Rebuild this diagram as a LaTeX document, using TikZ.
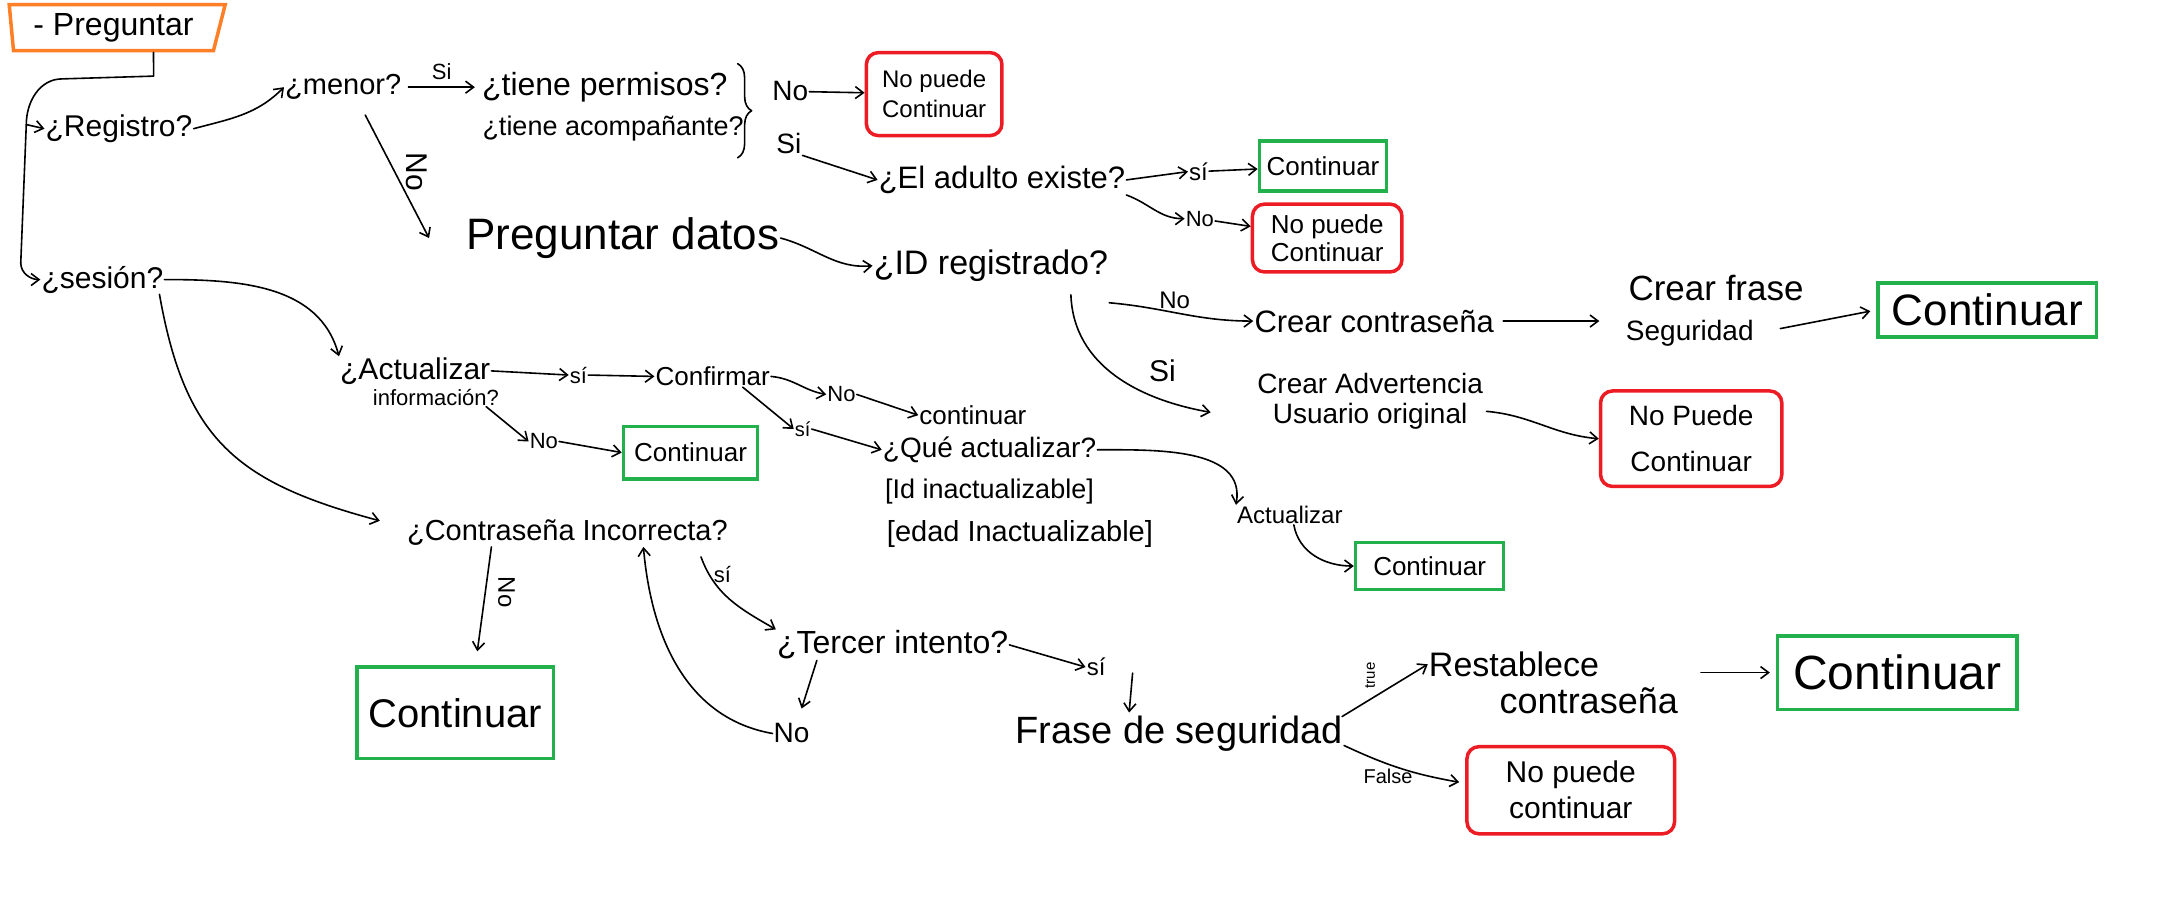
\documentclass[tikz,border=0pt]{standalone}
\usepackage{fontspec}
\setmainfont{Liberation Sans}
\usetikzlibrary{arrows.meta,shapes.geometric,decorations.pathreplacing}
\definecolor{pgreen}{HTML}{22B14C}
\definecolor{pred}{HTML}{ED1C24}
\definecolor{porange}{HTML}{FF7F27}
\tikzset{
  sz/.style={font=\fontsize{#1}{#1}\selectfont, inner sep=1pt},
  lsz/.style 2 args={font=\fontsize{#1}{#2}\selectfont, align=center},
  ln/.style={line width=1.6pt, line cap=round, line join=round},
  arr/.style={ln, -{Straight Barb[length=8pt, width=12pt]}},
  bsz/.style 2 args={minimum width=#1*1.384pt, minimum height=#2*1.384pt, inner sep=0pt},
  gbox/.style={draw=pgreen, line width=3.5pt},
  rbox/.style={draw=pred, line width=3.5pt, rounded corners=12pt},
}
\begin{document}
\begin{tikzpicture}[x=1.384pt, y=-1.384pt]
\useasboundingbox (0,0) rectangle (1568,652);
\fill[white] (0,0) rectangle (1568,652);

% start
\node[draw=porange, line width=3.5pt, trapezium, trapezium left angle=98, trapezium right angle=111,
      trapezium stretches body, minimum width=216pt, minimum height=46pt, sz=32] (preg) at (82,20) {- Preguntar};
\coordinate (c1) at (111,55);
\coordinate (c2) at (45,57);
\coordinate (j1) at (19,90);
\coordinate (j2) at (15,190);
\draw[ln] ([xshift=40pt]preg.south) -- (c1) -- (c2) to[out=180,in=90] (j1) -- (j2);

\node[sz=30] (reg) at (86,93) {¿Registro?};
\draw[arr] (j1) -- (reg.west);
\node[sz=30] (ses) at (74,202) {¿sesión?};
\draw[arr] (j2) to[out=-90,in=180] (ses.west);

% registro branch
\node[sz=29] (menor) at (248,63) {¿menor?};
\draw[arr] (reg.east) to[out=15,in=225] (menor.west);
\node[sz=32] (tp) at (437,63) {¿tiene permisos?};
\node[sz=27] (ta) at (443,93) {¿tiene acompañante?};
\draw[arr, shorten <=6pt, shorten >=6pt] (menor.east) -- node[above=6pt, sz=22] {Si} (tp.west);
\coordinate (bt) at (533,46);
\coordinate (bb) at (533,114);
\draw[ln, decorate, decoration={brace, amplitude=14pt}] (bt) -- (bb);

\node[sz=28] (noA) at (571,66) {No};
\node[sz=28] (siA) at (570,104) {Si};
\node[rbox, bsz={98}{60}, lsz={24}{30}] (r1) at (675,68) {No puede\\Continuar};
\draw[arr] (noA) -- (r1);
\node[sz=31] (adulto) at (724,130) {¿El adulto existe?};
\draw[arr] (siA.south east) -- (adulto.west);
\node[sz=24] (siB) at (866,124) {sí};
\node[gbox, bsz={92}{36}, sz=26] (g1) at (956,120) {Continuar};
\draw[arr] (adulto.east) -- (siB.west);
\draw[arr] (siB) -- (g1);
\node[sz=22] (noB) at (867,158) {No};
\node[rbox, bsz={108}{49}, lsz={26}{28}] (r2) at (959,172) {No puede\\Continuar};
\draw[arr] (adulto.south east) to[out=-20,in=180] (noB.west);
\draw[arr] (noB) -- (r2);

\node[sz=44] (pd) at (450,172) {Preguntar datos};
\draw[arr] ([xshift=22pt,yshift=-14pt]menor.south) -- ([xshift=-36pt]pd.west);
\node[sz=30, rotate=-90] (noM) at (301,124) {No};

\node[sz=34] (idr) at (716,192) {¿ID registrado?};
\draw[arr] (pd.east) to[out=-15,in=185] (idr.west);

\node[sz=31] (cc) at (993,232) {Crear contraseña};
\draw[arr] ([yshift=-20pt]idr.south east) to[out=-5,in=180] node[pos=0.45, above=2pt, sz=24] {No} (cc.west);
\node[sz=35] (cfs1) at (1240,208) {Crear frase};
\node[sz=28] (cfs2) at (1221,241) {Seguridad};
\draw[arr, shorten <=8pt, shorten >=28pt] (cc.east) -- (cc.east -| cfs1.west);
\node[gbox, bsz={158}{39}, sz=44] (g2) at (1436,224) {Continuar};
\draw[arr, shorten <=26pt, shorten >=6pt] (cfs2.east) -- (g2.west);

\node[lsz={28}{30}] (cau) at (990,290) {Crear Advertencia\\Usuario original};
\draw[arr] ([xshift=80pt,yshift=-12pt]idr.south) to[out=-88,in=170] ([xshift=-43pt,yshift=-11pt]cau.west);
\node[sz=30] (siL) at (840,268) {Si};
\node[rbox, bsz={131}{69}, lsz={28}{46}] (r3) at (1222,317) {No Puede\\Continuar};
\draw[arr] ([yshift=-10pt]cau.east) to[out=-5,in=175] (r3.west);

% sesion branch
\node[sz=30] (act1) at (300,268) {¿Actualizar};
\node[sz=22] (act2) at (315,287) {información?};
\draw[arr] (ses.east) to[out=0,in=105] (act1.north west);
\node[sz=22] (siC) at (418,271) {sí};
\node[sz=26] (conf) at (515,272) {Confirmar};
\draw[arr] (act1.east) -- (siC.west);
\draw[arr] (siC.east) -- (conf.west);
\node[sz=22] (noC) at (608,285) {No};
\node[sz=26] (cont1) at (703,300) {continuar};
\draw[arr] (conf.east) to[out=-5,in=170] (noC.west);
\draw[arr] (noC.east) -- (cont1.west);
\node[sz=20] (siD) at (580,310) {sí};
\node[sz=28] (qa) at (715,325) {¿Qué actualizar?};
\draw[arr] ([xshift=30pt]conf.south) -- (siD.west);
\draw[arr] (siD.east) -- (qa.west);
\node[sz=27] (br1) at (715,355) {[Id inactualizable]};
\node[sz=29] (br2) at (737,386) {[edad Inactualizable]};
\node[sz=22] (noD) at (393,319) {No};
\node[gbox, bsz={97}{38}, sz=26] (g3) at (499,327) {Continuar};
\draw[arr] ([xshift=-14pt]act2.south east) -- (noD.west);
\draw[arr] (noD.east) -- (g3.west);
\node[sz=24] (act3) at (932,372) {Actualizar};
\draw[arr] (qa.east) to[out=0,in=80] (act3.north west);
\node[gbox, bsz={107}{34}, sz=26] (g4) at (1033,409) {Continuar};
\draw[arr] ([xshift=4pt]act3.south) to[out=-80,in=180] (g4.west);

% contraseña
\node[sz=29] (ci) at (410,385) {¿Contraseña Incorrecta?};
\draw[arr] ([xshift=-5pt]ses.south east) to[out=-80,in=165,looseness=1.2] ([xshift=-26pt,yshift=12pt]ci.west);
\node[sz=24, rotate=-90] (noF) at (366,428) {No};
\node[gbox, bsz={142}{66}, sz=40] (g5) at (329,515) {Continuar};
\draw[arr] ([xshift=-76pt]ci.south) -- ([xshift=22pt,yshift=14pt]g5.north);
\node[sz=22] (siF) at (522,415) {sí};
\node[sz=32] (ti) at (645,466) {¿Tercer intento?};
\draw[arr] ([xshift=-28pt,yshift=-10pt]ci.south east) to[out=-70,in=150] (ti.north west);
\node[sz=28] (noE) at (572,530) {No};
\draw[arr] ([xshift=41pt]ti.south west) -- ([xshift=10pt,yshift=14pt]noE.north);
\draw[arr] (noE.west) to[out=170,in=-85] ([xshift=76pt]ci.south);
\node[sz=24] (siE) at (792,482) {sí};
\draw[arr] (ti.east) -- (siE.west);
\node[sz=38] (fs) at (852,530) {Frase de seguridad};
\draw[arr] ([xshift=26pt,yshift=-6pt]siE.east) -- ([xshift=-50pt,yshift=2pt]fs.north);
\node[sz=34] (rc1) at (1094,480) {Restablece};
\node[sz=36] (rc2) at (1148,506) {contraseña};
\draw[arr] ([xshift=-2pt,yshift=-2pt]fs.north east) -- (rc1.west);
\node[sz=15, rotate=90] (tru) at (990,488) {true};
\node[gbox, bsz={173}{53}, sz=48] (g6) at (1371,486) {Continuar};
\draw[arr, shorten <=22pt, shorten >=6pt] (rc2.east |- g6.west) -- (g6.west);
\node[rbox, bsz={150}{63}, lsz={30}{36}] (r4) at (1135,571) {No puede\\continuar};
\draw[arr] ([yshift=-12pt]fs.east) to[out=-25,in=170] ([xshift=-6pt,yshift=8pt]r4.west);
\node[sz=20] (fal) at (1003,561) {False};
\end{tikzpicture}
\end{document}
